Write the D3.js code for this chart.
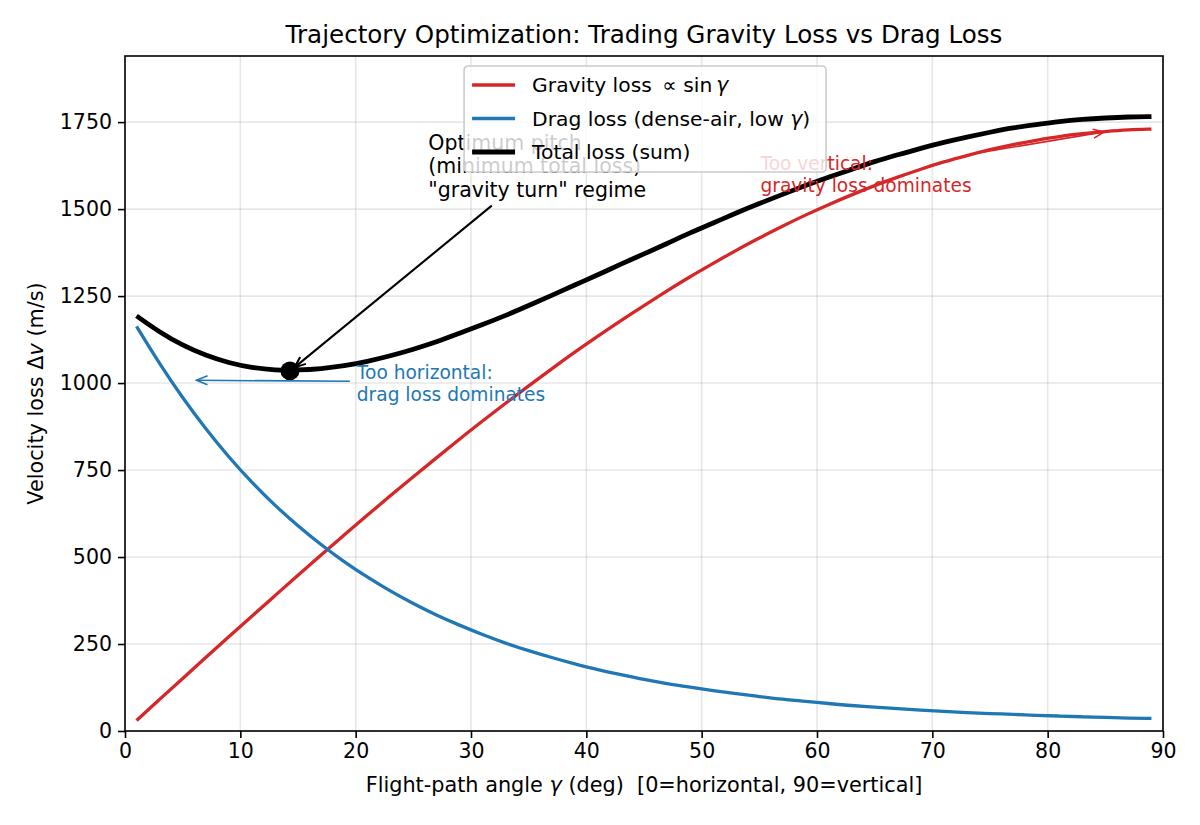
<!DOCTYPE html>
<html>
<head>
<meta charset="utf-8">
<script src="https://cdn.jsdelivr.net/npm/d3@7"></script>
<style>
  body { margin: 0; background: #fff; }
  text { font-family: "DejaVu Sans", sans-serif; }
</style>
</head>
<body>
<div id="chart"></div>
<script>
// flight-path angle samples (deg)
var angles = [1, 3, 5, 7, 9, 11, 13, 15, 17, 19, 21, 23, 25, 27, 29, 31, 33, 35, 37, 39, 41, 43, 45,
  47, 49, 51, 53, 55, 57, 59, 61, 63, 65, 67, 69, 71, 73, 75, 77, 79, 81, 83, 85, 87, 89];
// gravity loss (m/s)
var gravityLoss = [30, 91, 151, 211, 271, 330, 389, 448, 506, 563, 620, 676, 731, 785, 839, 891, 942, 992,
  1041, 1089, 1135, 1180, 1223, 1265, 1306, 1344, 1382, 1417, 1451, 1483, 1513, 1541, 1568, 1592, 1615,
  1636, 1654, 1671, 1686, 1698, 1709, 1717, 1723, 1728, 1730];
// drag loss (m/s)
var dragLoss = [1163, 1055, 957, 868, 787, 714, 648, 589, 535, 486, 442, 402, 366, 333, 304, 277, 252, 231,
  211, 193, 176, 162, 148, 136, 126, 116, 107, 99, 91, 85, 79, 73, 69, 64, 60, 56, 53, 50, 48, 45, 43,
  41, 39, 37, 36];
var optimum = [14.3, 1035];
var xTicks = [0, 10, 20, 30, 40, 50, 60, 70, 80, 90];
var yTicks = [0, 250, 500, 750, 1000, 1250, 1500, 1750];

var svgWidth = 1200;
var svgHeight = 825;
var margin = { top: 56, right: 37, bottom: 94, left: 125 };
var width = svgWidth - margin.left - margin.right;
var height = svgHeight - margin.top - margin.bottom;

var data = angles.map(function (a, i) {
  return { a: a, g: gravityLoss[i], d: dragLoss[i], t: gravityLoss[i] + dragLoss[i] };
});

var svg = d3.select("#chart").append("svg")
  .attr("width", svgWidth)
  .attr("height", svgHeight);

var defs = svg.append("defs");
[["arrBlack", "#000", 2], ["arrBlue", "#1f77b4", 1.6], ["arrRed", "#d62728", 1.6]].forEach(function (m) {
  defs.append("marker")
    .attr("id", m[0])
    .attr("viewBox", "0 0 13 13")
    .attr("refX", 12).attr("refY", 6.5)
    .attr("markerWidth", 13).attr("markerHeight", 13)
    .attr("markerUnits", "userSpaceOnUse")
    .attr("orient", "auto")
    .append("path")
    .attr("d", "M1,2 L12,6.5 L1,11")
    .attr("fill", "none")
    .attr("stroke", m[1])
    .attr("stroke-width", m[2]);
});

var chartGroup = svg.append("g")
  .attr("transform", `translate(${margin.left}, ${margin.top})`);

var xScale = d3.scaleLinear().domain([0, 90]).range([0, width]);
var yScale = d3.scaleLinear().domain([0, 1940]).range([height, 0]);

// grid
chartGroup.append("g")
  .selectAll("line").data(xTicks).enter().append("line")
  .attr("x1", d => xScale(d)).attr("x2", d => xScale(d))
  .attr("y1", 0).attr("y2", height)
  .attr("stroke", "#b0b0b0").attr("stroke-opacity", 0.3).attr("stroke-width", 1.6);
chartGroup.append("g")
  .selectAll("line").data(yTicks).enter().append("line")
  .attr("x1", 0).attr("x2", width)
  .attr("y1", d => yScale(d)).attr("y2", d => yScale(d))
  .attr("stroke", "#b0b0b0").attr("stroke-opacity", 0.3).attr("stroke-width", 1.6);

var line = function (key) {
  return d3.line().x(d => xScale(d.a)).y(d => yScale(d[key])).curve(d3.curveBasis);
};

chartGroup.append("path").datum(data)
  .attr("d", line("g")).attr("fill", "none")
  .attr("stroke", "#d62728").attr("stroke-width", 3.3);
chartGroup.append("path").datum(data)
  .attr("d", line("d")).attr("fill", "none")
  .attr("stroke", "#1f77b4").attr("stroke-width", 3.3);
chartGroup.append("path").datum(data)
  .attr("d", line("t")).attr("fill", "none")
  .attr("stroke", "#000").attr("stroke-width", 4.8);

chartGroup.append("circle")
  .attr("cx", xScale(optimum[0])).attr("cy", yScale(optimum[1]))
  .attr("r", 9.5).attr("fill", "#000");

// annotations (text anchor = first baseline, data units)
var ann = [
  { lines: ["Optimum pitch", "(minimum total loss)", "\"gravity turn\" regime"], tx: 26.3, ty: 1670, size: 20.5,
    gap: 23.5, color: "#000", from: [31.8, 1510], to: [14.7, 1045], marker: "arrBlack", lw: 2.1 },
  { lines: ["Too horizontal:", "drag loss dominates"], tx: 20.1, ty: 1012, size: 18.6,
    gap: 22, color: "#1f77b4", from: [19.5, 1005], to: [6.2, 1008], marker: "arrBlue", lw: 1.6 },
  { lines: ["Too vertical:", "gravity loss dominates"], tx: 55.1, ty: 1612, size: 18.6,
    gap: 22, color: "#d62728", from: [73.7, 1660], to: [84.9, 1722], marker: "arrRed", lw: 1.6 }
];

ann.forEach(function (a) {
  chartGroup.append("line")
    .attr("x1", xScale(a.from[0])).attr("y1", yScale(a.from[1]))
    .attr("x2", xScale(a.to[0])).attr("y2", yScale(a.to[1]))
    .attr("stroke", a.color).attr("stroke-width", a.lw)
    .attr("marker-end", `url(#${a.marker})`);
  var t = chartGroup.append("text")
    .attr("x", xScale(a.tx)).attr("y", yScale(a.ty))
    .attr("fill", a.color).style("font-size", a.size + "px");
  a.lines.forEach(function (l, i) {
    t.append("tspan").attr("x", xScale(a.tx)).attr("dy", i === 0 ? 0 : a.gap).text(l);
  });
});

// axes
var xaxis = d3.axisBottom(xScale).tickValues(xTicks).tickSize(7).tickPadding(5).tickFormat(d3.format("d"));
var yaxis = d3.axisLeft(yScale).tickValues(yTicks).tickSize(7).tickPadding(6).tickFormat(d3.format("d"));

var gx = chartGroup.append("g")
  .attr("transform", `translate(0, ${height})`)
  .call(xaxis);
var gy = chartGroup.append("g").call(yaxis);
[gx, gy].forEach(function (g) {
  g.select(".domain").remove();
  g.selectAll("line").attr("stroke", "#000").attr("stroke-width", 1.6);
  g.selectAll("text").style("font-size", "20.5px").style("font-family", "DejaVu Sans").attr("fill", "#000");
});

chartGroup.append("rect")
  .attr("width", width).attr("height", height)
  .attr("fill", "none").attr("stroke", "#000").attr("stroke-width", 1.6);

// legend
var legendItems = [
  { label: "Gravity loss \u2009", math: "\u221D sin\u2009", it: "\u03B3", tail: "", color: "#d62728", w: 3.3 },
  { label: "Drag loss (dense-air, low ", math: "", it: "\u03B3", tail: ")", color: "#1f77b4", w: 3.3 },
  { label: "Total loss (sum)", math: "", it: "", tail: "", color: "#000", w: 4.8 }
];
var lg = chartGroup.append("g").attr("transform", `translate(${xScale(29.4)}, 10)`);
lg.append("rect")
  .attr("width", 362).attr("height", 106).attr("rx", 4)
  .attr("fill", "#fff").attr("fill-opacity", 0.8)
  .attr("stroke", "#cccccc").attr("stroke-width", 1.6);
legendItems.forEach(function (d, i) {
  var y = 19 + i * 33.5;
  lg.append("line").attr("x1", 8).attr("x2", 51).attr("y1", y).attr("y2", y)
    .attr("stroke", d.color).attr("stroke-width", d.w);
  var t = lg.append("text").attr("x", 68).attr("y", y).attr("dy", "0.36em")
    .style("font-size", "20.3px").attr("fill", "#000");
  t.append("tspan").text(d.label);
  if (d.math) t.append("tspan").text(d.math);
  if (d.it) t.append("tspan").style("font-style", "italic").text(d.it);
  if (d.tail) t.append("tspan").text(d.tail);
});

// title and axis labels
svg.append("text")
  .attr("x", margin.left + width / 2).attr("y", 43)
  .attr("text-anchor", "middle")
  .style("font-size", "24.6px")
  .text("Trajectory Optimization: Trading Gravity Loss vs Drag Loss");

var xl = svg.append("text")
  .attr("x", margin.left + width / 2).attr("y", 792)
  .attr("text-anchor", "middle")
  .style("font-size", "20.8px");
xl.append("tspan").text("Flight-path angle ");
xl.append("tspan").style("font-style", "italic").text("\u03B3");
xl.append("tspan").text(" (deg)\u00A0\u00A0[0=horizontal, 90=vertical]");

var yl = svg.append("text")
  .attr("transform", `translate(43, ${margin.top + height / 2}) rotate(-90)`)
  .attr("text-anchor", "middle")
  .style("font-size", "20.8px");
yl.append("tspan").text("Velocity loss \u0394");
yl.append("tspan").style("font-style", "italic").text("v");
yl.append("tspan").text(" (m/s)");
</script>
</body>
</html>
